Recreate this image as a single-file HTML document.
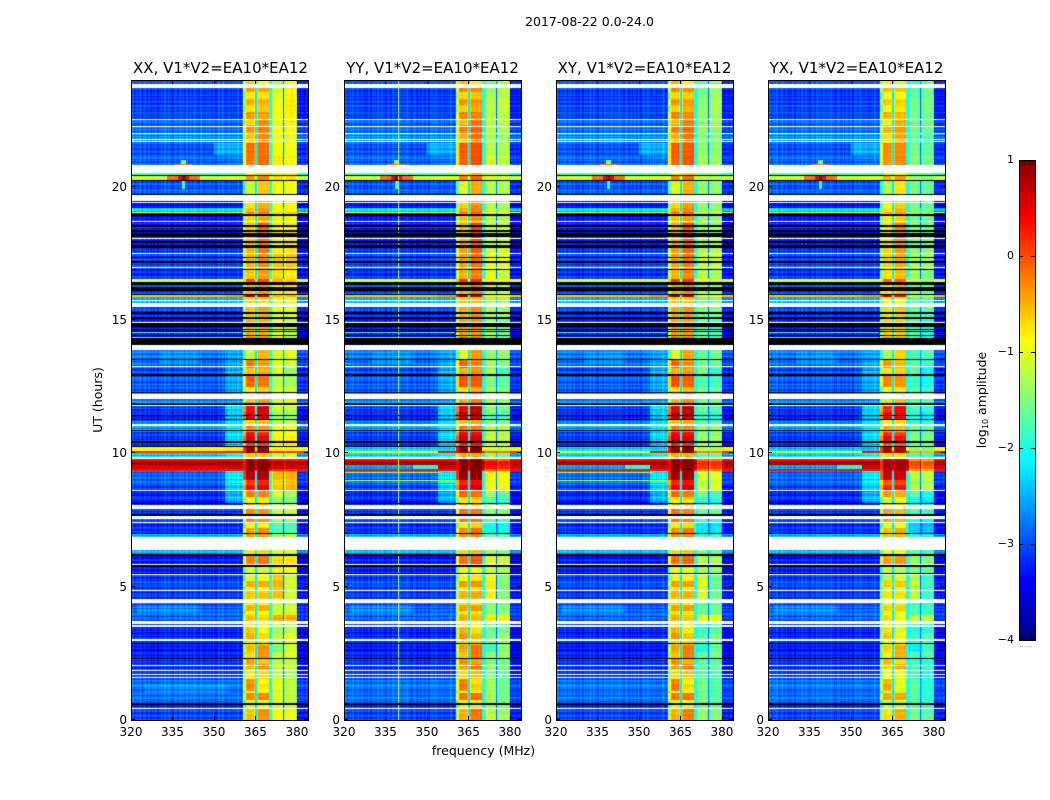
<!DOCTYPE html>
<html lang="en">
<head>
<meta charset="utf-8">
<title>2017-08-22 0.0-24.0 dynamic spectra</title>
<style>
html,body{margin:0;padding:0;background:#fff;}
#figure{position:relative;width:1050px;height:800px;overflow:hidden;background:#fff;}
canvas{position:absolute;display:block;}
svg{position:absolute;left:0;top:0;}
text{font-family:"DejaVu Sans","Liberation Sans",sans-serif;fill:#000;}
</style>
</head>
<body>
<div id="figure">
<canvas id="p0" width="177" height="640" style="left:131px;top:80px"></canvas>
<canvas id="p1" width="177" height="640" style="left:344px;top:80px"></canvas>
<canvas id="p2" width="177" height="640" style="left:556px;top:80px"></canvas>
<canvas id="p3" width="177" height="640" style="left:768px;top:80px"></canvas>
<canvas id="cb" width="16" height="480" style="left:1019px;top:160px"></canvas>
<svg id="overlay" width="1050" height="800" viewBox="0 0 1050 800">
<text x="589.500" y="26" font-size="12.500" text-anchor="middle">2017-08-22 0.0-24.0</text>
<text x="220.500" y="73" font-size="15" text-anchor="middle">XX, V1*V2=EA10*EA12</text>
<text x="432.500" y="73" font-size="15" text-anchor="middle">YY, V1*V2=EA10*EA12</text>
<text x="644.500" y="73" font-size="15" text-anchor="middle">XY, V1*V2=EA10*EA12</text>
<text x="856.500" y="73" font-size="15" text-anchor="middle">YX, V1*V2=EA10*EA12</text>
<text x="483.500" y="755" font-size="12.500" text-anchor="middle">frequency (MHz)</text>
<text transform="translate(102,400) rotate(-90)" font-size="12.500" text-anchor="middle">UT (hours)</text>
<text transform="translate(986,400) rotate(-90)" font-size="12.500" text-anchor="middle">log<tspan font-size="8" dy="2">10</tspan><tspan dy="-2"> amplitude</tspan></text>
<text x="1026" y="647" font-size="7" text-anchor="middle" style="fill:#888">......</text>
</svg>
</div>
<script>
// Axis limits and tick labels
const freqLimits = [320, 384];
const hourLimits = [0, 24];
const colorLimits = [-4, 1];
const xTicks = [320, 335, 350, 365, 380];
const yTicks = [0, 5, 10, 15, 20];
const colorbarTicks = [1, 0, -1, -2, -3, -4];
const panelNames = ['xx', 'yy', 'xy', 'yx'];

// Frequency layout of the spectrum (MHz): four bright blocks separated by narrow gaps
const shoulderStartMHz = 354;
const channelEdges = [320, 360.3, 361.6, 364.9, 365.5, 370.2, 371, 375.2, 375.7, 379.9, 384];
const gapLevels = [-2.2, -2.0, -2.95];
const backgroundTrim = -0.12;
const upperBackgroundTrim = -0.35;
const blockEdgeDrop = -0.2;
const blockEdgeWidthMHz = 0.4;

// Per-polarisation offset of blocks A, B, C, D (log10 amplitude)
const panelBlockOffset = [
  [0, 0, 0, 0],
  [0.1, 0.15, -0.3, -0.35],
  [0.1, 0.1, -0.5, -0.5],
  [-0.15, -0.15, -0.65, -0.7]
];

// Time bands: start hour, background, shoulder, block A, B, C, D (log10 amplitude)
const timeBands = [
  [0.00,-2.9,-2.9,-0.55,-0.35,-0.85,-0.95],[0.20,-2.9,-2.9,-0.6,-0.3,-0.9,-1.0],
  [0.45,-3.0,-3.0,-1.0,-0.9,-1.0,-1.1],[0.65,-2.85,-2.85,-1.0,-1.0,-1.1,-1.2],
  [0.75,-2.75,-2.75,-0.3,-0.3,-1.0,-1.2],[1.02,-2.8,-2.8,-1.1,-1.1,-1.1,-1.2],
  [1.10,-2.7,-2.7,-0.3,-0.8,-1.0,-1.2],[1.35,-2.7,-2.7,-0.35,-0.9,-1.0,-1.2],
  [1.56,-3.0,-3.0,-0.8,-0.7,-1.2,-1.3],[1.90,-3.05,-3.05,-0.5,-0.3,-1.1,-1.1],
  [2.08,-3.05,-3.05,-0.4,-0.6,-1.2,-1.2],[2.32,-3.1,-3.1,-0.7,-0.35,-1.1,-1.0],
  [2.55,-3.15,-3.15,-0.5,-0.3,-1.5,-1.1],[2.80,-3.15,-3.15,-0.8,-0.8,-1.3,-1.1],
  [3.00,-3.1,-3.1,-0.45,-0.7,-1.2,-1.0],[3.25,-3.1,-3.1,-0.6,-0.9,-1.3,-1.2],
  [3.50,-2.9,-2.9,-0.8,-0.9,-1.2,-1.2],[3.72,-2.8,-2.8,-0.55,-0.7,-0.45,-0.45],
  [3.95,-2.8,-2.8,-0.85,-0.9,-1.1,-1.1],[4.10,-2.8,-2.8,-0.5,-0.5,-1.1,-1.1],
  [4.30,-2.8,-2.8,-0.8,-0.9,-1.1,-1.1],[4.48,-3.0,-3.0,-0.6,-0.6,-0.55,-1.1],
  [4.86,-2.95,-2.95,-0.9,-0.9,-0.6,-1.1],[5.00,-2.95,-2.95,-0.5,-0.5,-0.5,-1.1],
  [5.20,-2.95,-2.95,-1.0,-0.9,-0.6,-1.1],[5.50,-3.1,-3.1,-1.0,-1.1,-0.8,-0.9],
  [5.72,-3.15,-3.15,-0.9,-0.8,-0.75,-0.8],[5.85,-3.15,-3.15,-0.25,-0.2,-0.7,-0.75],
  [6.15,-2.4,-2.4,-0.8,-0.7,-1.0,-1.1],[6.86,-2.4,-2.4,-0.4,-0.4,-1.3,-1.3],
  [7.00,-3.0,-3.0,-0.4,-0.3,-1.7,-1.7],[7.22,-3.0,-3.0,-0.9,-0.8,-1.7,-1.75],
  [7.42,-2.9,-2.9,-0.3,-0.35,-1.3,-1.4],[7.66,-3.1,-3.1,-0.3,-0.4,-1.1,-1.1],
  [8.12,-3.1,-2.4,-0.9,-0.8,-1.4,-1.5],[8.35,-3.1,-2.4,-0.2,-0.3,-1.0,-1.3],
  [8.61,-3.0,-2.3,0.35,0.45,-0.6,-0.5],[8.80,-2.8,-2.1,0.1,0.2,-0.7,-0.6],
  [8.99,-2.8,-2.1,0.75,0.75,-0.55,-0.5],[9.37,0.3,0.3,0.9,0.9,0.2,0.2],
  [9.41,0.55,0.6,1,1,0.6,0.6],[9.53,0.8,0.8,1,1,0.7,0.7],
  [9.71,0.3,0.3,0.8,0.8,0.3,0.3],[9.86,-2.3,-2.0,-0.6,-0.6,-1.1,-1.1],
  [10.00,0.2,0.3,1,1,0.2,0.2],[10.08,-0.9,-0.8,0.9,0.9,-0.8,-0.8],
  [10.24,-3.0,-2.3,0.1,0.1,-0.8,-0.8],[10.45,-3.0,-2.2,0.55,0.45,-0.8,-0.8],
  [10.65,-3.0,-2.2,0.3,0.2,-0.9,-0.9],[10.82,-2.5,-2.1,-0.3,-0.4,-0.9,-0.9],
  [11.09,-2.7,-2.2,-0.7,-0.6,-1.2,-1.2],[11.24,-3.0,-2.2,0.55,0.55,-1.3,-1.4],
  [11.55,-3.0,-2.2,0.35,0.55,-1.1,-1.2],[11.81,-2.6,-2.5,-0.6,-0.4,-1.0,-1.0],
  [12.25,-2.8,-2.4,-0.8,-0.6,-1.0,-1.1],[12.50,-2.8,-2.4,-0.1,-0.2,-1.2,-1.3],
  [12.90,-2.9,-2.4,-0.6,-0.5,-1.0,-1.4],[13.22,-2.7,-2.4,-0.2,-0.4,-1.0,-1.1],
  [13.50,-2.6,-2.4,-1.1,-0.5,-1.1,-1.0],[14.08,-3.1,-3.1,-0.1,-0.2,-0.9,-1.1],
  [14.35,-3.1,-3.1,-0.5,-0.5,-1.0,-1.2],[15.00,-3.0,-3.0,-0.6,-0.5,-1.0,-1.0],
  [15.47,-2.9,-2.9,-0.5,-0.3,-0.9,-0.9],[15.62,-2.4,-2.4,-0.7,-0.7,-1.0,-1.0],
  [15.85,-0.6,-0.4,0.9,0.6,-0.5,-0.5],[15.95,-2.9,-2.9,-0.6,-0.4,-0.8,-0.8],
  [16.42,-1.0,-1.0,0.0,0.0,-0.5,-0.6],[16.55,-3.0,-3.0,-0.6,-0.4,-0.7,-0.8],
  [16.98,-2.9,-2.9,-0.5,-0.3,-0.6,-0.6],[17.50,-3.0,-3.0,-0.5,-0.2,-0.8,-0.75],
  [18.00,-3.05,-3.05,-0.6,-0.1,-0.8,-0.8],[18.67,-3.2,-3.2,-0.7,-0.5,-0.9,-0.9],
  [18.99,-0.9,-0.9,-0.1,-0.1,-0.6,-0.5],[19.05,-2.2,-2.2,-0.6,-0.4,-0.9,-0.9],
  [19.20,-3.3,-3.3,-0.8,-0.5,-0.9,-0.9],[19.67,-2.85,-2.85,-1.1,-0.6,-0.9,-0.9],
  [20.22,-1.1,-1.0,-0.35,-0.25,-0.7,-0.7],[20.40,-1.5,-1.5,-0.9,-0.7,-0.9,-0.9],
  [20.81,-2.8,-2.7,-0.2,-0.15,-0.8,-0.85],[21.20,-2.85,-2.5,-0.15,-0.15,-0.9,-0.9],
  [21.67,-2.6,-2.6,-0.6,-0.3,-1.0,-1.0],[22.00,-2.75,-2.75,-0.35,-0.25,-0.9,-0.9],
  [22.30,-2.85,-2.85,-0.7,-0.35,-0.95,-0.85],[22.55,-2.95,-2.95,-0.35,-0.4,-0.9,-0.85],
  [22.80,-2.95,-2.95,-0.75,-0.6,-0.9,-0.8],[23.05,-3.0,-3.0,-0.45,-0.5,-0.95,-0.8],
  [23.30,-3.0,-3.0,-0.8,-0.75,-1.0,-0.85],[23.55,-3.0,-3.0,-0.4,-0.45,-1.1,-0.85],
  [23.86,-2.8,-2.8,-0.6,-0.9,-1.3,-0.95]
];

// Localised features: panel (-1 = all), fStart, fEnd, tStart, tEnd, level
const rfiBursts = [
  [-1,333,345,20.26,20.39,-0.2],[-1,337,341,20.26,20.39,0.4],[-1,338.3,339.7,20.2,20.42,1],
  [-1,338.4,339.6,19.9,20.2,-1.8],[-1,336,342,20.81,20.87,-0.2],[-1,337.8,340.2,20.87,21.0,-1.6],
  [0,325,355,1.0,1.4,-2.7],[-1,322,345,4.0,4.3,-2.7],[-1,350,360,21.2,21.67,-2.5],
  [-1,330,345,13.4,13.8,-2.6],[1,320,360,10.08,10.24,-2.4],[2,320,360,10.08,10.24,-2.4],
  [3,320,360,10.08,10.24,-2.5],[1,320,354,10.0,10.08,-0.9],[2,320,354,10.0,10.08,-0.9],
  [3,320,354,10.0,10.08,-1.2],[1,320,345,9.41,9.53,-2.6],[2,320,345,9.41,9.53,-2.6],
  [3,320,345,9.41,9.53,-2.6],[1,345,354,9.41,9.53,-2.0],[2,345,354,9.41,9.53,-2.0],
  [3,345,354,9.41,9.53,-2.0],[1,320,360,8.93,8.98,-1.2],[2,320,360,8.93,8.98,-1.2],
  [1,320,355,9.25,9.32,-1.4],[2,320,355,9.25,9.32,-1.4],[1,339.4,339.9,0,24,-1.2],
  [-1,320,360,14.31,14.35,-1.6],[-1,320,360,14.50,14.54,-1.6],[-1,320,360,14.68,14.72,-1.6]
];

// Fully flagged (white) intervals in hours
const gapHours = [
  [0.42,0.46],[1.56,1.63],[1.70,1.73],[1.86,1.89],[2.05,2.08],[2.98,3.02],[3.50,3.55],[3.61,3.71],
  [4.38,4.45],[4.48,4.55],[4.82,4.86],[5.45,5.49],[5.81,5.85],[6.39,6.86],[7.38,7.42],[7.53,7.64],
  [7.92,8.05],[8.57,8.61],[9.77,9.86],[11.04,11.09],[11.77,11.81],[12.05,12.24],[13.22,13.26],
  [13.89,14.08],[14.87,14.93],[15.47,15.62],[15.70,15.74],[16.94,16.98],[17.49,17.52],[18.05,18.09],
  [18.67,18.71],[19.37,19.43],[19.46,19.67],[20.53,20.81],[21.67,21.71],[21.76,21.80],[21.97,22.01],
  [22.23,22.27],[22.51,22.55],[23.70,23.86]
];

// Zero-amplitude (black) intervals in hours
const flaggedHours = [
  [0.58,0.63],[2.27,2.32],[2.84,2.88],[5.49,5.52],[5.75,5.81],[6.15,6.24],[6.96,7.00],[7.66,7.71],
  [8.09,8.12],[10.24,10.27],[10.40,10.45],[10.82,10.86],[11.24,11.28],[11.39,11.43],[11.81,11.88],
  [12.25,12.29],[12.90,12.96],[13.49,13.53],[14.08,14.24],[14.24,14.31],[14.39,14.42],[14.54,14.57],
  [14.62,14.68],[14.74,14.87],[15.03,15.10],[15.22,15.29],[15.94,15.97],[16.10,16.22],[16.30,16.42],[16.87,16.90],
  [17.14,17.22],[17.32,17.35],[17.69,17.80],[17.90,17.95],[18.12,18.26],[18.29,18.37],[18.49,18.56],[18.90,18.99],
  [19.68,19.72],[20.22,20.26],[20.39,20.43]
];

// Hand-set texture offsets (log10 amplitude): they imitate the background grain,
// cycled across rows and channels; they are not read cell by cell from the reference.
const rowGrain = [0.1,-0.15,0.05,0.2,-0.1,-0.2,0.15,0,-0.05,0.2,-0.15,0.1,-0.2,0.05,0.15,-0.1,0.2,-0.05,-0.15,0.1,0,0.15,-0.2,0.05,-0.1,0.2,0.1,-0.15,-0.05,0.15,-0.2,0.05,0.2,-0.1,0,0.1,-0.15,0.2,-0.05,-0.2,0.15,0.05,-0.1,0.1,-0.15,0.2,0];
const channelGrain = [-0.07,0.14,-0.14,0.03,0.1,-0.1,0.17,-0.03,-0.17,0.07,0.14,-0.07,0,0.17,-0.14,0.07,-0.1,0.14,0.03,-0.17,0.1,-0.03,0.07,-0.14,0.17,0,-0.1,0.14,-0.07,0.03,-0.17,0.14,0.07,-0.03,-0.14,0.17,-0.07,0.1,-0.17,0.03,0.14,-0.1,0,0.07,-0.14,0.17,-0.03,0.1,-0.07,-0.17,0.14,0.03,-0.1];

// Layout constants
const panelLefts = [131, 344, 556, 768];
const panelWidth = 177;
const panelTop = 80;
const panelBottom = 720;
const channelStep = 0.5;
const rowStep = 0.05;

function xAxis(p, f) { return panelLefts[p] + (f - freqLimits[0]) / (freqLimits[1] - freqLimits[0]) * panelWidth; }
function yAxis(t) { return panelBottom - (t - hourLimits[0]) / (hourLimits[1] - hourLimits[0]) * (panelBottom - panelTop); }
function clip01(v) { return Math.max(0, Math.min(1, v)); }
function jet(v) {
  const f = clip01((v - colorLimits[0]) / (colorLimits[1] - colorLimits[0]));
  const r = clip01(1.5 - Math.abs(4 * f - 3));
  const g = clip01(1.5 - Math.abs(4 * f - 2));
  const b = clip01(1.5 - Math.abs(4 * f - 1));
  return 'rgb(' + Math.round(r * 255) + ',' + Math.round(g * 255) + ',' + Math.round(b * 255) + ')';
}
function bandAt(t) {
  let found = timeBands[0];
  for (const band of timeBands) { if (band[0] <= t) found = band; else break; }
  return found;
}
function blockLevel(base, f, lo, hi, grain) {
  const edge = (f < lo + blockEdgeWidthMHz || f > hi - blockEdgeWidthMHz) ? blockEdgeDrop : 0;
  return base + edge + 0.3 * grain;
}
function cellLevel(p, band, f, t, grainR, grainC) {
  const off = panelBlockOffset[p];
  const e = channelEdges;
  const bg = band[1];
  const hot = bg > -1.5;
  const grain = (grainR + grainC) * (hot ? 0.2 : 1);
  const quiet = hot ? 0 : backgroundTrim;
  let v;
  if (f < e[1]) {
    v = (f >= shoulderStartMHz ? band[2] : bg) + quiet + grain;
  } else if (f < e[2]) {
    v = band[3] + off[0] - 0.7 + 0.4 * grainC;
  } else if (f < e[3]) {
    v = blockLevel(band[3] + off[0], f, e[2] - blockEdgeWidthMHz, e[3], grain);
  } else if (f < e[4]) {
    v = Math.max(gapLevels[0], bg);
  } else if (f < e[5]) {
    v = blockLevel(band[4] + off[1], f, e[4], e[5], grain);
  } else if (f < e[6]) {
    v = Math.max(gapLevels[1], bg);
  } else if (f < e[7]) {
    v = blockLevel(band[5] + off[2], f, e[6], e[7], grain);
  } else if (f < e[8]) {
    v = Math.max(gapLevels[2], bg);
  } else if (f < e[9]) {
    v = blockLevel(band[6] + off[3], f, e[8], e[9], grain);
  } else {
    v = bg + (hot ? 0 : upperBackgroundTrim) + grain;
  }
  for (const b of rfiBursts) {
    if ((b[0] === -1 || b[0] === p) && f >= b[1] && f < b[2] && t >= b[3] && t < b[4] && f < e[1]) {
      v = b[5] + (b[5] < -2 ? grainR + grainC : 0.3 * grainC);
    }
  }
  return v;
}
function drawPanel(p) {
  const canvas = document.getElementById('p' + p);
  const ctx = canvas.getContext('2d');
  const ox = panelLefts[p];
  const nRows = Math.round((hourLimits[1] - hourLimits[0]) / rowStep);
  const nCols = Math.round((freqLimits[1] - freqLimits[0]) / channelStep);
  for (let r = 0; r < nRows; r++) {
    const t = hourLimits[0] + (r + 0.5) * rowStep;
    const band = bandAt(t);
    const y1 = Math.round(yAxis(hourLimits[0] + (r + 1) * rowStep)) - panelTop;
    const y0 = Math.round(yAxis(hourLimits[0] + r * rowStep)) - panelTop;
    const grainR = rowGrain[r % rowGrain.length];
    for (let c = 0; c < nCols; c++) {
      const f = freqLimits[0] + (c + 0.5) * channelStep;
      const x0 = Math.round(xAxis(p, freqLimits[0] + c * channelStep)) - ox;
      const x1 = Math.round(xAxis(p, freqLimits[0] + (c + 1) * channelStep)) - ox;
      ctx.fillStyle = jet(cellLevel(p, band, f, t, grainR, channelGrain[c % channelGrain.length]));
      ctx.fillRect(x0, y1, x1 - x0, y0 - y1);
    }
  }
  ctx.fillStyle = '#ffffff';
  for (const g of gapHours) {
    const top = Math.round(yAxis(g[1])) - panelTop;
    ctx.fillRect(0, top, panelWidth, Math.max(1, Math.round(yAxis(g[0])) - panelTop - top));
  }
  ctx.fillStyle = '#000000';
  for (const g of flaggedHours) {
    const top = Math.round(yAxis(g[1])) - panelTop;
    ctx.fillRect(0, top, panelWidth, Math.max(1, Math.round(yAxis(g[0])) - panelTop - top));
  }
}
function drawColorbar() {
  const ctx = document.getElementById('cb').getContext('2d');
  for (let i = 0; i < 480; i++) {
    ctx.fillStyle = jet(colorLimits[1] - (i + 0.5) / 480 * (colorLimits[1] - colorLimits[0]));
    ctx.fillRect(0, i, 16, 1);
  }
}
const SVG_NS = 'http://www.w3.org/2000/svg';
const overlay = document.getElementById('overlay');
function svgEl(tag, attrs) {
  const el = document.createElementNS(SVG_NS, tag);
  for (const k in attrs) el.setAttribute(k, attrs[k]);
  overlay.appendChild(el);
  return el;
}
function drawAxes(p) {
  const left = panelLefts[p];
  const right = left + panelWidth;
  for (const v of xTicks) {
    const x = Math.round(xAxis(p, v)) + 0.5;
    const bottomTick = svgEl('line', {x1: x, x2: x, y1: panelBottom, y2: panelBottom - 4, stroke: '#000'});
    
    
    const topTick = svgEl('line', {x1: x, x2: x, y1: panelTop, y2: panelTop + 4, stroke: '#000'});
    
    
    const label = svgEl('text', {x: xAxis(p, v), y: 736, 'font-size': 12, 'text-anchor': 'middle'});
    label.textContent = String(v);
    
    
  }
  for (const v of yTicks) {
    const y = Math.round(yAxis(v)) - 0.5;
    const leftTick = svgEl('line', {x1: left, x2: left + 4, y1: y, y2: y, stroke: '#000'});
    
    
    const rightTick = svgEl('line', {x1: right, x2: right - 4, y1: y, y2: y, stroke: '#000'});
    
    
    const label = svgEl('text', {x: left - 4, y: y + 4.5, 'font-size': 12, 'text-anchor': 'end'});
    label.textContent = String(v);
    
    
  }
  const frame = svgEl('rect', {x: left + 0.5, y: panelTop + 0.5, width: panelWidth, height: panelBottom - panelTop, fill: 'none', stroke: '#000', 'stroke-width': 1});
  
  
}
function drawColorbarAxis() {
  const cbLeft = 1019, cbRight = 1035, cbTop = 160, cbBottom = 640;
  const cbY = v => cbBottom - (v - colorLimits[0]) / (colorLimits[1] - colorLimits[0]) * (cbBottom - cbTop);
  for (const v of colorbarTicks) {
    const y = Math.round(cbY(v));
    const leftTick = svgEl('line', {x1: cbLeft, x2: cbLeft + 4, y1: y + 0.5, y2: y + 0.5, stroke: '#000'});
    
    
    const rightTick = svgEl('line', {x1: cbRight, x2: cbRight - 4, y1: y + 0.5, y2: y + 0.5, stroke: '#000'});
    
    
    const label = svgEl('text', {x: cbLeft - 5, y: y + 3, 'font-size': 11, 'text-anchor': 'end'});
    label.textContent = String(v).replace('-', '\u2212');
    
    
  }
  for (let i = 1; i < 6; i++) {
    const x = cbLeft + i * (cbRight - cbLeft) / 6 + 0.5;
    const upper = svgEl('line', {x1: x, x2: x, y1: cbTop, y2: cbTop + 5, stroke: '#000', 'stroke-opacity': 0.6});
    
    
    const lower = svgEl('line', {x1: x, x2: x, y1: cbBottom, y2: cbBottom - 5, stroke: '#000', 'stroke-opacity': 0.6});
    
    
  }
  const frame = svgEl('rect', {x: cbLeft + 0.5, y: cbTop + 0.5, width: cbRight - cbLeft, height: cbBottom - cbTop, fill: 'none', stroke: '#000', 'stroke-width': 1});
  
  
}
for (let p = 0; p < panelLefts.length; p++) {
  drawPanel(p);
  drawAxes(p);
}
drawColorbar();
drawColorbarAxis();
</script>
</body>
</html>
